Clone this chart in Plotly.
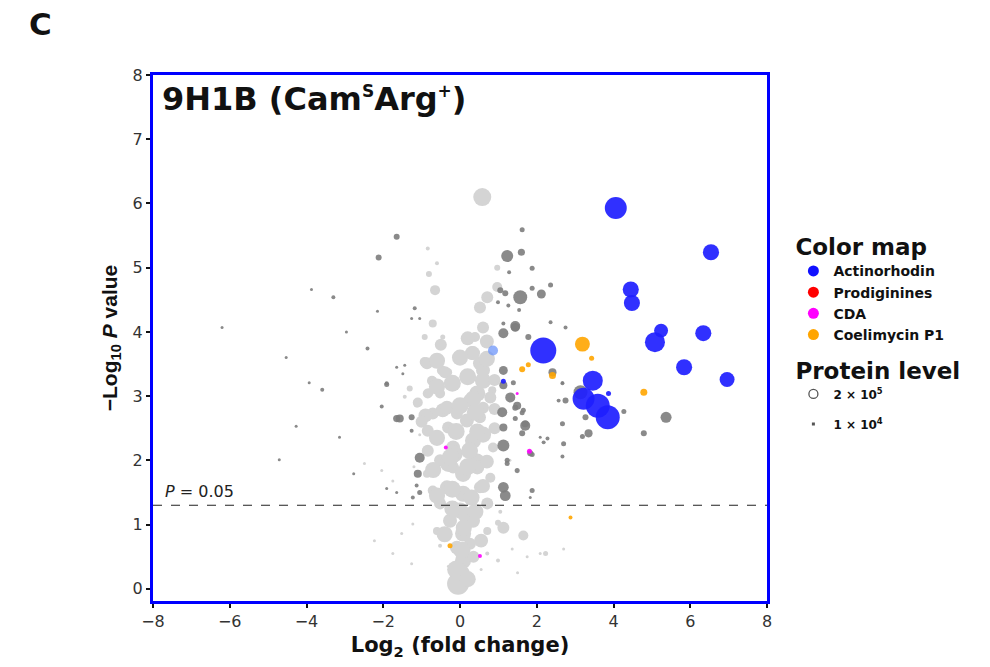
import math
import plotly.graph_objects as go

# ---------------- data (log2 fold change, -log10 P, protein level) ----------------
light_x = [0.58, -0.65, -0.81, 0.97, 0.71, 0.52, 0.60, 0.39, -0.71, -0.92, -0.45, -0.92, -0.47, -0.31,
           0.31, 0.52, 0.60, 0.45, 0.26, -0.71, -0.84, -0.52, -0.45, -0.71, -0.08, 0.60, 0.84, 0.34,
           0.60, 0.34, 0.79, -0.86, -0.39, -0.73, -0.79, -0.34, -0.84, -0.31, 0.18, 0.52, 0.34, -0.18,
           -0.84, 0.86, 0.45, -0.52, -0.18, -1.31, -1.13, -1.44, 0.08, 0.45, -0.34, 0.52, 0.08, -0.52,
           0.71, 0.00, -0.26, 0.34, 0.08, -0.08, 0.26, 0.08, 0.00, -0.05, -0.60, 0.71, -0.71, 0.79,
           -0.86, -0.34, 1.13, 1.65, 2.23, 0.99, 0.97, -0.84, -0.60, -2.49, -2.04, -1.75, -1.23, -1.52,
           -2.23, -1.75, -1.26, -0.52, 0.99, 1.36, 2.09, 2.70, 1.75, 0.71, 1.05, -1.05, -1.20, 1.30,
           -0.30, 0.55, 1.50,
           -0.60, -0.20, 0.30, 0.60, -0.70, -0.30, 0.20, 0.70, -0.60, -0.10, 0.60, 0.90, -0.90, 0.00,
           0.40, 0.90, -0.60, -0.20, 0.20, 0.90, -0.60, 0.00, 0.70, 0.20, 0.70, -0.50, -0.15, 0.25,
           0.15, -0.20, 0.40, 0.10, -0.40, 0.55, -1.00, -1.10, 0.05, 0.35, -0.10, 0.20, -0.25, 0.45]
light_y = [6.10, 4.65, 4.90, 4.70, 4.54, 4.38, 4.07, 3.92, 4.13, 3.92, 3.92, 3.53, 3.40, 3.37,
           3.67, 3.51, 3.24, 3.04, 2.93, 3.24, 3.04, 3.04, 2.78, 2.73, 2.73, 2.82, 3.09, 3.67,
           3.40, 2.96, 2.98, 3.51, 3.37, 3.24, 3.06, 2.82, 2.46, 2.51, 2.62, 2.67, 2.31, 2.20,
           2.15, 2.20, 2.00, 2.00, 1.89, 3.12, 2.87, 2.99, 1.79, 1.89, 1.58, 1.58, 1.48, 1.33,
           1.33, 1.22, 1.06, 1.06, 0.86, 0.64, 0.70, 0.44, 0.23, 0.08, 0.90, 0.90, 1.53, 1.73,
           1.79, 1.95, 0.95, 0.83, 0.55, 1.03, 5.00, 5.30, 5.07, 1.95, 1.84, 1.68, 1.01, 0.86,
           0.75, 0.55, 0.39, 0.67, 0.44, 0.62, 0.55, 0.62, 0.50, 0.55, 1.20, 2.40, 1.90, 2.00,
           0.35, 0.30, 0.25,
           1.45, 1.55, 1.42, 1.60, 1.85, 1.95, 1.90, 1.98, 2.35, 2.45, 2.40, 2.50, 2.70, 2.85,
           2.75, 2.80, 3.15, 3.20, 3.30, 3.25, 3.55, 3.60, 3.58, 3.90, 3.85, 3.80, 2.10, 2.15,
           1.15, 1.25, 1.20, 0.95, 0.85, 0.75, 2.60, 2.90, 0.60, 0.50, 0.30, 0.15, 2.05, 2.45]
light_level = [4.5e5, 1.4e5, 5e4, 1.4e5, 2e5, 2e5, 2e5, 1.4e5, 9e4, 5e4, 3.5e4, 1.4e5, 1.4e5, 9e4,
               2.7e5, 2.7e5, 3.6e5, 3.6e5, 2.7e5, 9e4, 1.4e5, 1.4e5, 2.7e5, 2e5, 2e5, 2e5, 9e4, 2.7e5,
               2.7e5, 3.6e5, 2e5, 2e5, 2e5, 1.4e5, 9e4, 2.7e5, 2e5, 2e5, 2.7e5, 2e5, 3.6e5, 2.7e5,
               2e5, 1.4e5, 2.7e5, 2e5, 2e5, 5e4, 5e4, 2.2e4, 3.6e5, 2.7e5, 2.7e5, 2e5, 3.6e5, 2e5,
               2e5, 3.6e5, 2.7e5, 2.7e5, 3.6e5, 2.7e5, 2e5, 3.6e5, 5.6e5, 6.7e5, 9e4, 9e4, 1.4e5, 1.4e5,
               9e4, 2e5, 2e5, 1.4e5, 3.5e4, 5e4, 5e4, 2.2e4, 2.2e4, 1.25e4, 1.25e4, 1.25e4, 1.25e4, 1.25e4,
               1.25e4, 1.25e4, 1.25e4, 2.2e4, 2.2e4, 1.25e4, 1.25e4, 1.25e4, 1.25e4, 2.2e4, 2.2e4, 1.25e4,
               1.25e4, 1.25e4, 1.25e4, 1.25e4, 1.25e4,
               3.6e5, 4e5, 3.6e5, 2.7e5, 3.6e5, 4e5, 4e5, 2.7e5, 3.6e5, 4e5, 3.6e5, 2e5, 2.7e5, 4e5,
               4e5, 2e5, 3.6e5, 4e5, 4e5, 2e5, 3.6e5, 3.6e5, 3.6e5, 2.7e5, 2.7e5, 2e5, 4e5, 4e5,
               3.6e5, 3.6e5, 3.6e5, 3.6e5, 3.6e5, 2.7e5, 2e5, 1.4e5, 4e5, 2e5, 4.5e5, 3.6e5, 4e5, 3.6e5]

dark_x = [1.62, -1.65, -2.12, 1.23, 1.60, 1.88, 1.28, 1.57, 2.12, 1.88, 2.36, 1.05, 1.18, 0.99,
          1.26, 1.54, 1.44, 1.13, -1.18, -1.26, -1.05, 2.36, 1.44, 1.13, 1.78, 1.13, 1.13, 1.39,
          2.41, 1.31, 1.49, 1.10, 1.65, 1.70, 1.44, 1.13, 1.62, 1.13, 1.83, 1.23, -1.05, -1.57,
          -1.26, -1.26, -1.44, -1.91, -1.49, 2.57, 2.28, 2.67, 3.14, 2.75, 4.27, 5.37, 4.79, 3.35,
          3.19, 2.67, 2.70, 3.27, 2.18, 2.67, 1.70, 1.44, 1.62, 1.88, 2.09, 2.75, 2.67, -3.87,
          -3.30, -6.20, -2.41, -4.53, -1.91, -3.59, -3.93, -1.65, -1.65, -2.04, -4.27, -3.14, -4.71, -2.77,
          -2.15, -2.96, -1.10, -1.05, -1.13, 1.13, 1.18, 1.88, 1.49, 1.23, -1.91, -1.65, -1.23, 1.83]
dark_y = [5.59, 5.48, 5.16, 5.18, 5.24, 4.99, 4.93, 4.54, 4.59, 4.68, 4.73, 4.65, 4.60, 4.46,
          4.41, 4.34, 4.09, 4.13, 4.37, 4.21, 4.21, 4.15, 4.07, 3.98, 3.92, 3.40, 3.17, 3.21,
          3.37, 2.98, 2.85, 2.75, 2.78, 2.54, 2.65, 2.51, 2.42, 2.23, 2.11, 2.00, 2.04, 2.65,
          2.67, 2.46, 3.48, 3.20, 3.35, 2.93, 2.34, 3.20, 3.06, 2.93, 2.76, 2.67, 2.42, 2.42,
          2.37, 2.57, 2.26, 2.67, 2.28, 2.06, 2.57, 2.82, 2.74, 2.09, 2.36, 4.07, 3.21, 4.66,
          4.54, 4.07, 3.74, 3.60, 3.18, 3.10, 3.21, 3.45, 2.65, 2.84, 2.53, 2.36, 2.01, 1.79,
          4.32, 4.00, 1.79, 1.50, 1.61, 1.58, 1.45, 1.53, 1.84, 1.95, 1.56, 1.50, 1.42, 1.42]
dark_level = [3.5e4, 5e4, 5e4, 2e5, 7e4, 3.5e4, 2.2e4, 2.7e5, 1.1e5, 3.5e4, 3.5e4, 5e4, 5e4, 2.2e4,
              2.2e4, 2.2e4, 1.4e5, 2.2e4, 2.2e4, 1.25e4, 1.25e4, 2.2e4, 1.1e5, 1.4e5, 5e4, 1.1e5, 9e4, 3.5e4,
              9e4, 1.4e5, 9e4, 1.4e5, 3.5e4, 1.4e5, 3.5e4, 9e4, 5e4, 2e5, 5e4, 3.5e4, 1.4e5, 9e4,
              5e4, 2.2e4, 1.25e4, 2.2e4, 1.25e4, 2.2e4, 2.2e4, 2.2e4, 2.7e5, 5e4, 3.5e4, 1.7e5, 5e4, 9e4,
              3.5e4, 3.5e4, 3.5e4, 5e4, 2.2e4, 2.2e4, 7e4, 5e4, 3.5e4, 3.5e4, 1.25e4, 2.2e4, 1.25e4, 1.25e4,
              2.2e4, 1.25e4, 2.2e4, 1.25e4, 3.5e4, 2.2e4, 1.25e4, 1.25e4, 7e4, 2.2e4, 1.25e4, 1.25e4, 1e4, 1e4,
              1e4, 1e4, 9e4, 3.5e4, 2.2e4, 1.6e5, 1.6e5, 3.5e4, 3.5e4, 3.5e4, 1.25e4, 1.25e4, 2.2e4, 1.25e4]

act_x = [4.06, 6.54, 4.45, 4.48, 5.24, 5.08, 6.34, 5.84, 6.96, 2.17, 3.46, 3.22, 3.59, 3.85, 1.13, 3.87]
act_y = [5.93, 5.24, 4.66, 4.45, 4.02, 3.84, 3.98, 3.45, 3.26, 3.71, 3.24, 2.96, 2.85, 2.67, 3.23, 3.04]
act_level = [6.7e5, 3.6e5, 3.6e5, 3.6e5, 2.7e5, 5.6e5, 3.6e5, 3.6e5, 3.1e5, 9.4e5, 5.6e5, 6.7e5, 8e5, 8e5,
             3.5e4, 3.5e4]

act_faint_x = [0.86]
act_faint_y = [3.71]
act_faint_level = [1.4e5]

coel_x = [3.19, 3.43, 4.79, 2.41, 1.62, 1.78, 2.88, -0.26]
coel_y = [3.81, 3.59, 3.06, 3.32, 3.42, 3.49, 1.11, 0.67]
coel_level = [3.1e5, 3.5e4, 6.8e4, 6.8e4, 5e4, 3.5e4, 2.2e4, 3.5e4]

cda_x = [1.81, -0.37, 0.52, 1.49]
cda_y = [2.14, 2.20, 0.51, 3.04]
cda_level = [3.5e4, 2.2e4, 2.2e4, 1.25e4]

prod_x = []
prod_y = []
prod_level = []

legend_names = ["Actinorhodin", "Prodiginines", "CDA", "Coelimycin P1"]
legend_colors = ["#1010ff", "#ff0000", "#ff00ff", "#ffa500"]
level_legend = ["2 × 10<sup>5</sup>", "1 × 10<sup>4</sup>"]

p_threshold = 0.05
p_line = -math.log10(p_threshold)

x_ticks = [-8, -6, -4, -2, 0, 2, 4, 6, 8]
y_ticks = [0, 1, 2, 3, 4, 5, 6, 7, 8]

# ---------------- figure ----------------
WIDE = "DejaVu Sans, Verdana, sans-serif"
NARROW = "Liberation Sans, Arial, sans-serif"
SIZEREF = 2 * 2e5 / (12 ** 2)


def mk(x, y, lvl, color, opacity=1.0):
    return go.Scatter(x=x, y=y, mode="markers", showlegend=False, hoverinfo="skip",
                      marker=dict(size=lvl, sizemode="area", sizeref=SIZEREF, sizemin=1.5,
                                  color=color, opacity=opacity, line=dict(width=0)))


fig = go.Figure()
fig.add_trace(mk(light_x, light_y, light_level, "rgb(212,212,212)"))
fig.add_trace(mk(dark_x, dark_y, dark_level, "rgb(125,125,125)", 0.9))
fig.add_trace(mk(act_faint_x, act_faint_y, act_faint_level, "rgb(110,150,250)", 0.75))
fig.add_trace(mk(act_x, act_y, act_level, "rgb(30,30,255)", 0.92))
fig.add_trace(mk(prod_x, prod_y, prod_level, "#ff0000"))
fig.add_trace(mk(cda_x, cda_y, cda_level, "#ff00ff", 0.9))
fig.add_trace(mk(coel_x, coel_y, coel_level, "#ffa500", 0.9))

# legend keys: colour map
for n, c in zip(legend_names, legend_colors):
    fig.add_trace(go.Scatter(x=[None], y=[None], mode="markers", name="<b>%s</b>" % n,
                             legend="legend", marker=dict(size=11, color=c)))
# legend keys: protein level
fig.add_trace(go.Scatter(x=[None], y=[None], mode="markers", name="<b>%s</b>" % level_legend[0],
                         legend="legend2", legendgroup="l1",
                         marker=dict(size=9, symbol="circle-open", color="#555", line=dict(width=1.3))))
fig.add_trace(go.Scatter(x=[None], y=[None], mode="markers", name="<b>%s</b>" % level_legend[1],
                         legend="legend2", legendgroup="l2",
                         marker=dict(size=3, symbol="square", color="#555")))

fig.add_shape(type="line", xref="x", yref="y", x0=x_ticks[0], x1=x_ticks[-1], y0=p_line, y1=p_line,
              line=dict(color="#222", width=1.2, dash="dash"))

fig.add_annotation(x=-7.75, y=p_line, xref="x", yref="y", xanchor="left", yanchor="bottom",
                   text="<i>P</i> = 0.05", showarrow=False, yshift=2,
                   font=dict(size=16, family=WIDE, color="#222"))
fig.add_annotation(x=0.012, y=0.995, xref="paper", yref="paper", xanchor="left", yanchor="top",
                   text="<b>9H1B (Cam<sup><span style='font-size:17px'>S</span></sup>"
                        "Arg<sup><span style='font-size:17px'>+</span></sup>)</b>",
                   showarrow=False, font=dict(size=32, family=WIDE, color="#111"))
fig.add_annotation(x=-0.205, y=1.135, xref="paper", yref="paper", xanchor="left", yanchor="top",
                   text="<b>C</b>", showarrow=False, font=dict(size=31, family=WIDE, color="#111"))

fig.update_layout(
    width=990, height=667,
    margin=dict(l=153, r=223, t=75, b=66),
    paper_bgcolor="white", plot_bgcolor="white",
    font=dict(family=WIDE, color="#222"),
    showlegend=True,
    legend=dict(x=1.043, y=0.714, xanchor="left", yanchor="top",
                title=dict(text="<b>Color map</b>", font=dict(size=23, family=WIDE, color="#111")),
                font=dict(size=14, family=WIDE, color="#111"),
                itemsizing="trace", bgcolor="rgba(0,0,0,0)"),
    legend2=dict(x=1.043, y=0.478, xanchor="left", yanchor="top",
                 title=dict(text="<b>Protein level</b>", font=dict(size=23, family=WIDE, color="#111")),
                 font=dict(size=12, family=WIDE, color="#111"),
                 itemsizing="trace", tracegroupgap=11, bgcolor="rgba(0,0,0,0)"),
    xaxis=dict(range=[-8, 8], tickvals=x_ticks, ticktext=[str(v).replace("-", "\u2212") for v in x_ticks],
               showgrid=False, zeroline=False, showline=True, linecolor="#0000ff", linewidth=3,
               mirror=True, ticks="outside", ticklen=4, tickwidth=2, tickcolor="#111",
               tickfont=dict(size=16, family=WIDE, color="#333"),
               title=dict(text="<b>Log<sub>2</sub> (fold change)</b>", standoff=8,
                          font=dict(size=21, family=WIDE, color="#111"))),
    yaxis=dict(range=[-0.19, 8], tickvals=y_ticks, showgrid=False, zeroline=False, showline=True,
               linecolor="#0000ff", linewidth=3, mirror=True, ticks="outside", ticklen=4, tickwidth=2,
               tickcolor="#111", tickfont=dict(size=16, family=WIDE, color="#333"),
               title=dict(text="<b>\u2212Log<sub>10</sub> <i>P</i> value</b>", standoff=10,
                          font=dict(size=21, family=NARROW, color="#111"))),
)

fig.write_html("out.html")
